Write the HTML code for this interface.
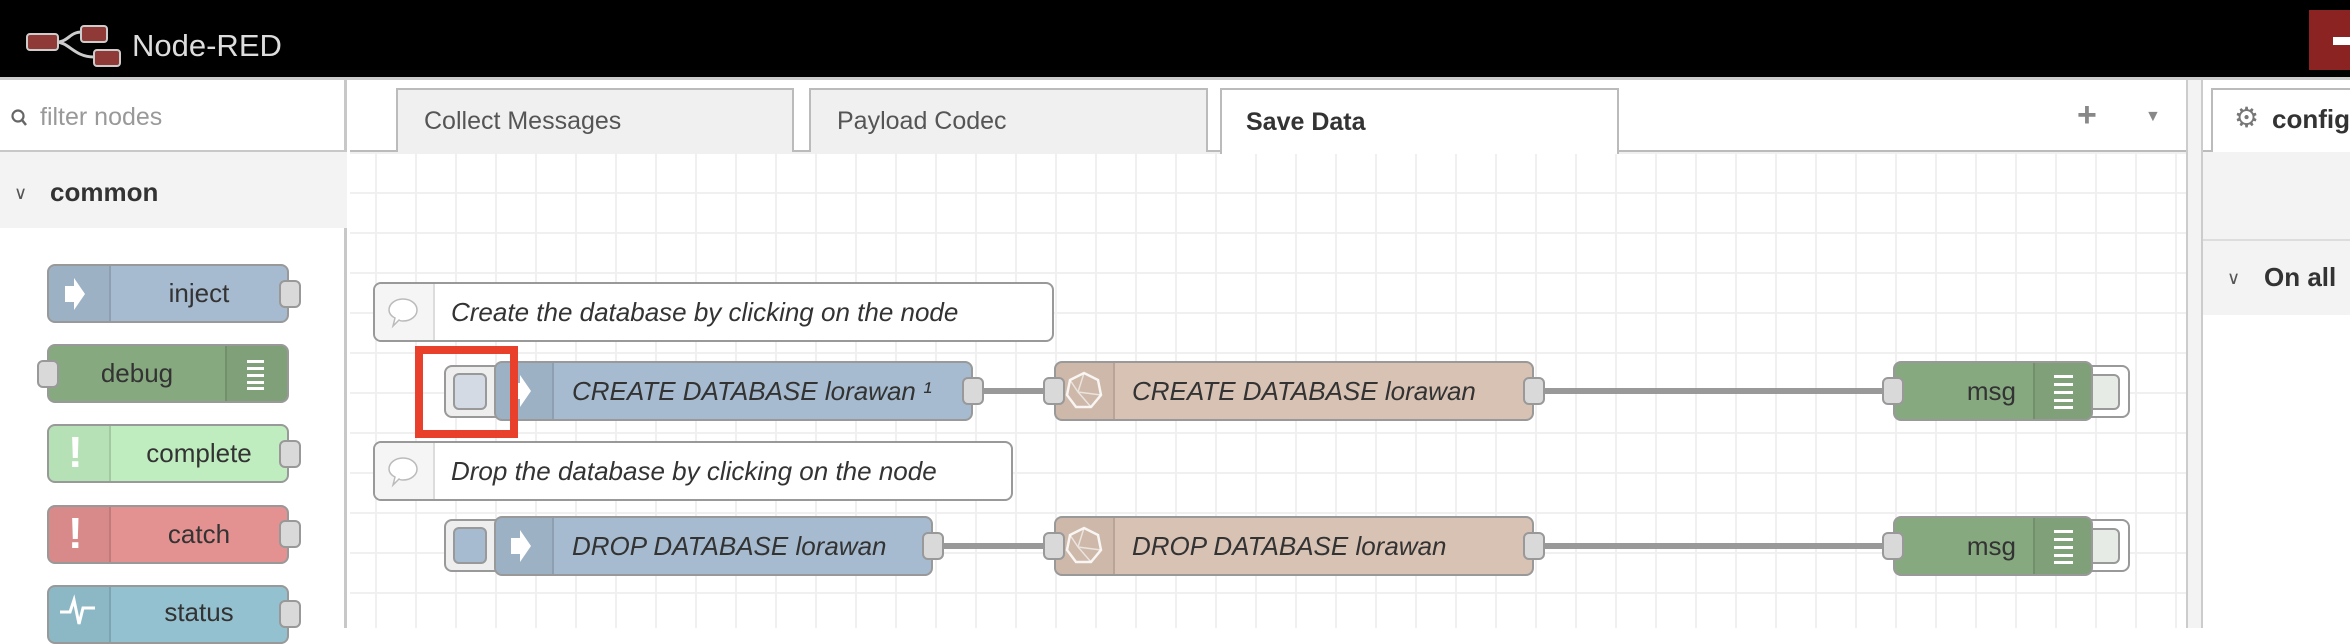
<!DOCTYPE html>
<html><head><meta charset="utf-8">
<style>
*{box-sizing:border-box;margin:0;padding:0}
body{width:2350px;height:628px;overflow:hidden;background:#fff;font-family:"Liberation Sans",sans-serif;position:relative;color:#333}
.a{position:absolute}
.hdr{left:0;top:0;width:2350px;height:80px;background:#000;border-bottom:3px solid #ccc}
.pal{left:0;top:80px;width:347px;height:548px;border-right:3px solid #c8c8c8;background:#fff}
.node{position:absolute;border:2px solid #999;border-radius:8px;overflow:hidden}
.icon{position:absolute;left:0;top:0;bottom:0;border-right:2px solid rgba(0,0,0,0.1);background:rgba(0,0,0,0.05)}
.ricon{position:absolute;right:0;top:0;bottom:0;border-left:2px solid rgba(0,0,0,0.1);background:rgba(0,0,0,0.05)}
.lbl{position:absolute;top:0;bottom:0;display:flex;align-items:center;font-size:26px;color:#333;white-space:nowrap}
.it{font-style:italic;font-size:26px}
.port{position:absolute;width:22px;height:28px;background:#d9d9d9;border:2px solid #999;border-radius:6px}
.wire{position:absolute;height:6px;background:#999}
.tab{position:absolute;top:88px;height:64px;border:2px solid #bbb;border-bottom:none;background:#f0f0f0;font-size:25px;color:#555;padding-left:26px;display:flex;align-items:center}
</style></head><body>
<div class="a hdr"></div>
<svg class="a" style="left:24px;top:24px" width="110" height="46" viewBox="0 0 110 46">
<path d="M32 18 C45 18 45 8 58 8 M32 18 C45 18 50 33 70 33" stroke="#ccc" stroke-width="3" fill="none"/>
<rect x="3" y="10" width="31" height="16" rx="3" fill="#8f3a36" stroke="#ccc" stroke-width="2"/>
<rect x="57" y="2" width="26" height="16" rx="3" fill="#8f3a36" stroke="#ccc" stroke-width="2"/>
<rect x="70" y="26" width="26" height="16" rx="3" fill="#8f3a36" stroke="#ccc" stroke-width="2"/>
</svg>
<div class="a" style="left:132px;top:28px;font-size:31px;color:#ddd">Node-RED</div>
<div class="a" style="left:2309px;top:10px;width:41px;height:60px;background:#8c2323"></div>
<div class="a" style="left:2333px;top:37px;width:17px;height:8px;background:#fff"></div>

<!-- palette -->
<div class="a pal"></div>
<div class="a" style="left:0;top:150px;width:347px;height:2px;background:#c8c8c8"></div>
<svg class="a" style="left:10px;top:108px" width="18" height="22"><circle cx="8" cy="8" r="5.5" stroke="#666" stroke-width="2.2" fill="none"/><line x1="12" y1="12" x2="16" y2="17" stroke="#666" stroke-width="2.5"/></svg>
<div class="a" style="left:40px;top:103px;font-size:25px;color:#999">filter nodes</div>
<div class="a" style="left:0;top:152px;width:347px;height:76px;background:#f3f3f3"></div>
<div class="a" style="left:14px;top:183px;font-size:18px;color:#555">&#8744;</div>
<div class="a" style="left:50px;top:177px;font-size:26px;font-weight:bold;color:#333">common</div>

<div class="node" style="left:47px;top:264px;width:242px;height:59px;background:#a6bbcf"><div class="icon" style="width:62px"></div><div class="lbl" style="left:62px;right:0;justify-content:center">inject</div></div>
<svg class="a" style="left:62px;top:276px" width="26" height="36"><path d="M3 10h9V2l11 16-11 16v-8H3z" fill="#fff"/></svg>
<div class="port" style="left:279px;top:280px"></div>

<div class="node" style="left:47px;top:344px;width:242px;height:59px;background:#87a980"><div class="ricon" style="width:62px"></div><div class="lbl" style="left:0;right:62px;justify-content:center">debug</div></div>
<svg class="a" style="left:245px;top:358px" width="22" height="32"><g fill="#fff"><rect x="2" y="2" width="17" height="3"/><rect x="2" y="9" width="17" height="3"/><rect x="2" y="16" width="17" height="3"/><rect x="2" y="23" width="17" height="3"/><rect x="2" y="29" width="17" height="3"/></g></svg>
<div class="port" style="left:37px;top:360px"></div>

<div class="node" style="left:47px;top:424px;width:242px;height:59px;background:#c0edc0"><div class="icon" style="width:62px"></div><div class="lbl" style="left:62px;right:0;justify-content:center">complete</div></div>
<div class="a" style="left:68px;top:428px;font-size:44px;font-weight:bold;color:#fff">!</div>
<div class="port" style="left:279px;top:440px"></div>

<div class="node" style="left:47px;top:505px;width:242px;height:59px;background:#e49191"><div class="icon" style="width:62px"></div><div class="lbl" style="left:62px;right:0;justify-content:center">catch</div></div>
<div class="a" style="left:68px;top:509px;font-size:44px;font-weight:bold;color:#fff">!</div>
<div class="port" style="left:279px;top:520px"></div>

<div class="node" style="left:47px;top:585px;width:242px;height:59px;background:#94c1d0"><div class="icon" style="width:62px"></div><div class="lbl" style="left:62px;right:0;justify-content:center;top:-4px">status</div></div>
<svg class="a" style="left:58px;top:590px" width="40" height="38"><path d="M2 22h10l4-12 5 24 4-16h12" stroke="#fff" stroke-width="3" fill="none"/></svg>
<div class="port" style="left:279px;top:600px"></div>

<!-- canvas -->
<div class="a" style="left:350px;top:152px;width:1836px;height:476px;background-color:#fff;background-image:linear-gradient(to right,#f0f0f0 2px,transparent 2px),linear-gradient(to bottom,#f0f0f0 2px,transparent 2px);background-size:40px 40px;background-position:25px 0px"></div>
<!-- tabs bar -->
<div class="a" style="left:350px;top:80px;width:1836px;height:72px;background:#fff;border-bottom:2px solid #bbb"></div>
<div class="tab" style="left:396px;width:398px">Collect Messages</div>
<div class="tab" style="left:809px;width:399px">Payload Codec</div>
<div class="tab" style="left:1220px;width:399px;background:#fff;height:66px;color:#333;font-weight:bold;padding-left:24px">Save Data</div>
<div class="a" style="left:2077px;top:96px;font-size:34px;font-weight:bold;color:#888">+</div>
<div class="a" style="left:2145px;top:108px;font-size:16px;color:#888">&#9660;</div>
<div class="a" style="left:2186px;top:80px;width:17px;height:548px;background:#f3f3f3;border-left:2px solid #ccc;border-right:2px solid #ccc"></div>
<!-- right sidebar -->
<div class="a" style="left:2203px;top:80px;width:147px;height:548px;background:#fff"></div>
<div class="a" style="left:2203px;top:150px;width:147px;height:2px;background:#bbb"></div>
<div class="a" style="left:2211px;top:88px;width:139px;height:64px;border:2px solid #bbb;border-bottom:none;border-right:none;background:#fff"></div>
<div class="a" style="left:2234px;top:101px;font-size:28px;color:#777">&#9881;</div>
<div class="a" style="left:2272px;top:104px;font-size:26px;font-weight:bold;color:#333">config</div>
<div class="a" style="left:2203px;top:152px;width:147px;height:87px;background:#f3f3f3"></div>
<div class="a" style="left:2203px;top:239px;width:147px;height:76px;background:#f3f3f3;border-top:2px solid #ddd"></div>
<div class="a" style="left:2227px;top:268px;font-size:18px;color:#555">&#8744;</div>
<div class="a" style="left:2264px;top:262px;font-size:26px;font-weight:bold;color:#333">On all</div>

<!-- comments -->
<div class="node" style="left:373px;top:282px;width:681px;height:60px;background:#fff"><div class="icon" style="width:60px;background:#f5f5f5"></div><div class="lbl it" style="left:76px">Create the database by clicking on the node</div></div>
<svg class="a" style="left:386px;top:296px" width="36" height="34"><path d="M17 3c8 0 14 5 14 11s-6 11-14 11c-2 0-3 0-4-1l-6 6 2-8C5 20 3 17 3 14 3 8 9 3 17 3z" fill="#fff" stroke="#bbb" stroke-width="1.5"/></svg>
<div class="node" style="left:373px;top:441px;width:640px;height:60px;background:#fff"><div class="icon" style="width:60px;background:#f5f5f5"></div><div class="lbl it" style="left:76px">Drop the database by clicking on the node</div></div>
<svg class="a" style="left:386px;top:455px" width="36" height="34"><path d="M17 3c8 0 14 5 14 11s-6 11-14 11c-2 0-3 0-4-1l-6 6 2-8C5 20 3 17 3 14 3 8 9 3 17 3z" fill="#fff" stroke="#bbb" stroke-width="1.5"/></svg>

<!-- row 1 -->
<div class="a" style="left:444px;top:365px;width:60px;height:53px;border:2px solid #999;border-radius:8px;background:#eee"></div>
<div class="a" style="left:453px;top:373px;width:34px;height:37px;border:2px solid #999;border-radius:6px;background:#d3dae3"></div>
<div class="node" style="left:494px;top:361px;width:479px;height:60px;background:#a6bbcf"><div class="icon" style="width:58px"></div><div class="lbl it" style="left:76px">CREATE DATABASE lorawan &#185;</div></div>
<svg class="a" style="left:508px;top:373px" width="26" height="36"><path d="M3 10h9V2l11 16-11 16v-8H3z" fill="#fff"/></svg>
<div class="port" style="left:962px;top:377px"></div>
<div class="wire" style="left:983px;top:388px;width:72px"></div>
<div class="node" style="left:1054px;top:361px;width:480px;height:60px;background:#d8c2b4"><div class="icon" style="width:59px"></div><div class="lbl it" style="left:76px">CREATE DATABASE lorawan</div></div>
<svg class="a" style="left:1064px;top:370px" width="40" height="40"><polygon points="20,3 34,10 37,25 27,37 12,37 3,25 6,10" fill="none" stroke="#fff" stroke-width="2.5" opacity=".85"/><path d="M20 3L14 22 27 37M14 22L37 25M6 10L14 22" stroke="#fff" stroke-width="1.5" fill="none" opacity=".6"/></svg>
<div class="port" style="left:1043px;top:377px"></div>
<div class="port" style="left:1523px;top:377px"></div>
<div class="wire" style="left:1544px;top:388px;width:340px"></div>
<div class="a" style="left:2080px;top:365px;width:50px;height:53px;border:2px solid #999;border-radius:8px;background:#fff"></div>
<div class="a" style="left:2080px;top:374px;width:40px;height:36px;border:2px solid #999;border-radius:6px;background:#e6ebe5"></div>
<div class="node" style="left:1893px;top:361px;width:200px;height:60px;background:#87a980"><div class="ricon" style="width:58px"></div><div class="lbl" style="right:75px;font-size:26px">msg</div></div>
<svg class="a" style="left:2053px;top:374px" width="22" height="36"><g fill="#fff"><rect x="1" y="1" width="19" height="3"/><rect x="1" y="9" width="19" height="3"/><rect x="1" y="17" width="19" height="3"/><rect x="1" y="25" width="19" height="3"/><rect x="1" y="32" width="19" height="3"/></g></svg>
<div class="port" style="left:1882px;top:377px"></div>

<!-- row 2 -->
<div class="a" style="left:444px;top:519px;width:60px;height:53px;border:2px solid #999;border-radius:8px;background:#eee"></div>
<div class="a" style="left:453px;top:527px;width:34px;height:37px;border:2px solid #999;border-radius:6px;background:#a6bbcf"></div>
<div class="node" style="left:494px;top:516px;width:439px;height:60px;background:#a6bbcf"><div class="icon" style="width:58px"></div><div class="lbl it" style="left:76px">DROP DATABASE lorawan</div></div>
<svg class="a" style="left:508px;top:528px" width="26" height="36"><path d="M3 10h9V2l11 16-11 16v-8H3z" fill="#fff"/></svg>
<div class="port" style="left:922px;top:532px"></div>
<div class="wire" style="left:943px;top:543px;width:112px"></div>
<div class="node" style="left:1054px;top:516px;width:480px;height:60px;background:#d8c2b4"><div class="icon" style="width:59px"></div><div class="lbl it" style="left:76px">DROP DATABASE lorawan</div></div>
<svg class="a" style="left:1064px;top:525px" width="40" height="40"><polygon points="20,3 34,10 37,25 27,37 12,37 3,25 6,10" fill="none" stroke="#fff" stroke-width="2.5" opacity=".85"/><path d="M20 3L14 22 27 37M14 22L37 25M6 10L14 22" stroke="#fff" stroke-width="1.5" fill="none" opacity=".6"/></svg>
<div class="port" style="left:1043px;top:532px"></div>
<div class="port" style="left:1523px;top:532px"></div>
<div class="wire" style="left:1544px;top:543px;width:340px"></div>
<div class="a" style="left:2080px;top:519px;width:50px;height:53px;border:2px solid #999;border-radius:8px;background:#fff"></div>
<div class="a" style="left:2080px;top:528px;width:40px;height:36px;border:2px solid #999;border-radius:6px;background:#e6ebe5"></div>
<div class="node" style="left:1893px;top:516px;width:200px;height:60px;background:#87a980"><div class="ricon" style="width:58px"></div><div class="lbl" style="right:75px;font-size:26px">msg</div></div>
<svg class="a" style="left:2053px;top:529px" width="22" height="36"><g fill="#fff"><rect x="1" y="1" width="19" height="3"/><rect x="1" y="9" width="19" height="3"/><rect x="1" y="17" width="19" height="3"/><rect x="1" y="25" width="19" height="3"/><rect x="1" y="32" width="19" height="3"/></g></svg>
<div class="port" style="left:1882px;top:532px"></div>

<!-- red highlight -->
<div class="a" style="left:415px;top:346px;width:103px;height:92px;border:8px solid #e8402a"></div>
</body></html>
